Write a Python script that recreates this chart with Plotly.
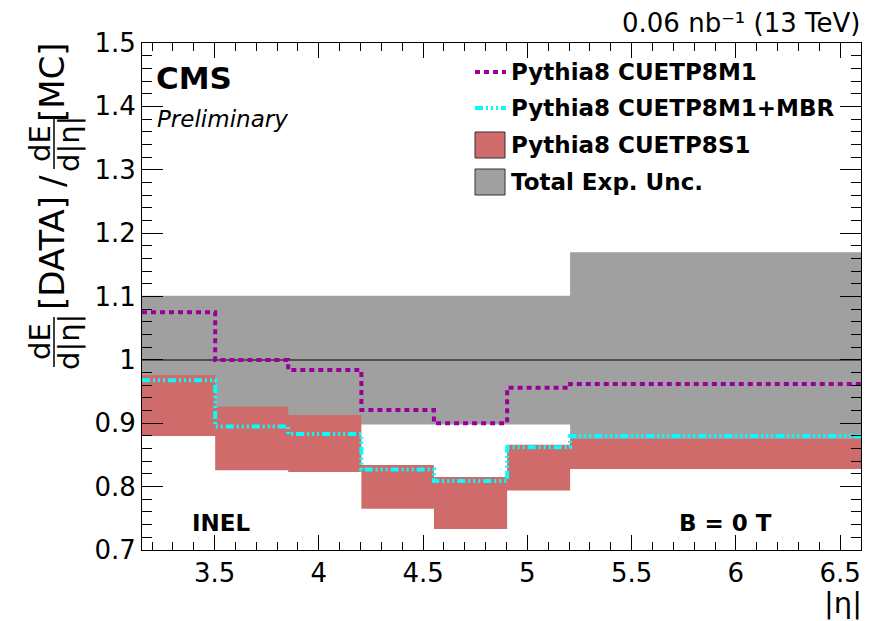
import plotly.graph_objects as go

# ---------------- data ----------------
edges = [3.152, 3.503, 3.853, 4.204, 4.552, 4.903, 5.205, 6.6]
unc_low = [0.898, 0.898, 0.898, 0.898, 0.898, 0.898, 0.830]
unc_high = [1.101, 1.101, 1.101, 1.101, 1.101, 1.101, 1.170]
s1_low = [0.880, 0.826, 0.823, 0.765, 0.733, 0.794, 0.828]
s1_high = [0.976, 0.926, 0.913, 0.834, 0.815, 0.866, 0.875]
m1_vals = [1.075, 1.000, 0.984, 0.921, 0.900, 0.956, 0.962]
mbr_vals = [0.968, 0.895, 0.883, 0.827, 0.809, 0.862, 0.880]
ref_level = 1.0

x_tickvals = [3.5, 4, 4.5, 5, 5.5, 6, 6.5]
x_ticktext = ["3.5", "4", "4.5", "5", "5.5", "6", "6.5"]
y_tickvals = [0.7, 0.8, 0.9, 1.0, 1.1, 1.2, 1.3, 1.4, 1.5]
y_ticktext = ["0.7", "0.8", "0.9", "1", "1.1", "1.2", "1.3", "1.4", "1.5"]

names = ["Pythia8 CUETP8M1", "Pythia8 CUETP8M1+MBR", "Pythia8 CUETP8S1", "Total Exp. Unc."]

C_M1 = "#990099"
C_MBR = "#00FFFF"
C_S1 = "#CF6B6B"
C_UNC = "#A0A0A0"
FONT = "DejaVu Sans"

# the page body adds an 8 px margin; compensate so the plot lands where the reference has it
OFF = 8
W, H = 873 - OFF, 621 - OFF
L, R, T, B = 142 - OFF, 12, 43 - OFF, 71
PW, PH = W - L - R, H - T - B


def px(xp):
    return (xp - OFF - L) / PW


def py(yp):
    return (H - B - (yp - OFF)) / PH


def band(lo, hi):
    xs, ys = [], []
    n = len(lo)
    for i in range(n):
        xs += [edges[i], edges[i + 1]]
        ys += [hi[i], hi[i]]
    for i in reversed(range(n)):
        xs += [edges[i + 1], edges[i]]
        ys += [lo[i], lo[i]]
    xs.append(xs[0])
    ys.append(ys[0])
    return xs, ys


DASH_M1 = "5px,4px"
DASH_MBR = "8px,3px,2px,3px,2px,3px,2px,3px"

fig = go.Figure()

ux, uy = band(unc_low, unc_high)
fig.add_trace(go.Scatter(x=ux, y=uy, fill="toself", fillcolor=C_UNC, mode="lines",
                         line=dict(width=0, color=C_UNC), name=names[3], hoverinfo="skip"))
sx, sy = band(s1_low, s1_high)
fig.add_trace(go.Scatter(x=sx, y=sy, fill="toself", fillcolor=C_S1, mode="lines",
                         line=dict(width=0, color=C_S1), name=names[2], hoverinfo="skip"))
fig.add_trace(go.Scatter(x=[edges[0], edges[-1]], y=[ref_level, ref_level], mode="lines",
                         line=dict(color="#333333", width=1.5), showlegend=False))
fig.add_trace(go.Scatter(x=edges, y=mbr_vals + [mbr_vals[-1]], mode="lines", line_shape="hv",
                         line=dict(color=C_MBR, width=4, dash=DASH_MBR), name=names[1]))
fig.add_trace(go.Scatter(x=edges, y=m1_vals + [m1_vals[-1]], mode="lines", line_shape="hv",
                         line=dict(color=C_M1, width=4, dash=DASH_M1), name=names[0]))

axis_common = dict(showline=True, linecolor="black", linewidth=1, mirror="allticks",
                   ticks="inside", tickcolor="black", showgrid=False, zeroline=False)

fig.update_xaxes(range=[edges[0], edges[-1]], tickvals=x_tickvals, ticktext=x_ticktext,
                 ticklen=15, tickwidth=1,
                 tickfont=dict(family=FONT, size=26, color="black"),
                 minor=dict(dtick=0.1, tick0=3.5, ticklen=8, ticks="inside", tickcolor="black", showgrid=False),
                 **axis_common)
fig.update_yaxes(range=[0.7, 1.5], tickvals=y_tickvals, ticktext=y_ticktext,
                 ticklen=21, tickwidth=1,
                 tickfont=dict(family=FONT, size=26, color="black"),
                 minor=dict(dtick=0.02, tick0=0.7, ticklen=10, ticks="inside", tickcolor="black", showgrid=False),
                 **axis_common)

ann = []
shapes = []

# top texts
ann.append(dict(x=px(862), y=py(23), xref="paper", yref="paper", xanchor="right", yanchor="middle",
                text="0.06 nb⁻¹ (13 TeV)", showarrow=False,
                font=dict(family=FONT, size=26, color="black")))
ann.append(dict(x=px(154), y=py(78), xref="paper", yref="paper", xanchor="left", yanchor="middle",
                text="<b>CMS</b>", showarrow=False, font=dict(family=FONT, size=31, color="black")))
ann.append(dict(x=px(155), y=py(119), xref="paper", yref="paper", xanchor="left", yanchor="middle",
                text="<i>Preliminary</i>", showarrow=False, font=dict(family=FONT, size=23, color="black")))
ann.append(dict(x=px(190), y=py(523), xref="paper", yref="paper", xanchor="left", yanchor="middle",
                text="<b>INEL</b>", showarrow=False, font=dict(family=FONT, size=23, color="black")))
ann.append(dict(x=px(677), y=py(523), xref="paper", yref="paper", xanchor="left", yanchor="middle",
                text="<b>B = 0 T</b>", showarrow=False, font=dict(family=FONT, size=23, color="black")))
ann.append(dict(x=px(864), y=py(603), xref="paper", yref="paper", xanchor="right", yanchor="middle",
                text="|η|", showarrow=False, font=dict(family=FONT, size=29, color="black")))

# legend (manual)
rows = [72, 108, 145, 182]
for name, yr in zip(names, rows):
    ann.append(dict(x=px(509), y=py(yr), xref="paper", yref="paper", xanchor="left", yanchor="middle",
                    text="<b>" + name + "</b>", showarrow=False,
                    font=dict(family=FONT, size=23, color="black")))
shapes.append(dict(type="line", xref="paper", yref="paper", x0=px(475), x1=px(506), y0=py(rows[0]), y1=py(rows[0]),
                   line=dict(color=C_M1, width=4, dash=DASH_M1)))
shapes.append(dict(type="line", xref="paper", yref="paper", x0=px(475), x1=px(506), y0=py(rows[1]), y1=py(rows[1]),
                   line=dict(color=C_MBR, width=4, dash=DASH_MBR)))
shapes.append(dict(type="rect", xref="paper", yref="paper", x0=px(475), x1=px(505), y0=py(rows[2] - 13), y1=py(rows[2] + 13),
                   fillcolor=C_S1, line=dict(color="#333333", width=1)))
shapes.append(dict(type="rect", xref="paper", yref="paper", x0=px(475), x1=px(505), y0=py(rows[3] - 13), y1=py(rows[3] + 13),
                   fillcolor=C_UNC, line=dict(color="#333333", width=1)))

# y-axis title built from rotated pieces
TF = dict(family=FONT, size=34, color="black")
FF = dict(family=FONT, size=29, color="black")
bar_x = 54
for yc in (144, 342):
    ann.append(dict(x=px(bar_x - 14), y=py(yc), xref="paper", yref="paper", xanchor="center", yanchor="middle",
                    text="dE", textangle=-90, showarrow=False, font=FF))
    ann.append(dict(x=px(bar_x + 15), y=py(yc), xref="paper", yref="paper", xanchor="center", yanchor="middle",
                    text="d|η|", textangle=-90, showarrow=False, font=FF))
    shapes.append(dict(type="line", xref="paper", yref="paper", x0=px(bar_x), x1=px(bar_x),
                       y0=py(yc - 25), y1=py(yc + 25), line=dict(color="black", width=1.5)))
ann.append(dict(x=px(52), y=py(82), xref="paper", yref="paper", xanchor="center", yanchor="middle",
                text="[MC]", textangle=-90, showarrow=False, font=TF))
ann.append(dict(x=px(52), y=py(181), xref="paper", yref="paper", xanchor="center", yanchor="middle",
                text="/", textangle=-90, showarrow=False, font=TF))
ann.append(dict(x=px(52), y=py(253), xref="paper", yref="paper", xanchor="center", yanchor="middle",
                text="[DATA]", textangle=-90, showarrow=False, font=TF))

fig.update_layout(width=W, height=H, margin=dict(l=L, r=R, t=T, b=B),
                  paper_bgcolor="white", plot_bgcolor="white", showlegend=False,
                  annotations=ann, shapes=shapes, font=dict(family=FONT, color="black"))

fig.write_html("out.html")
